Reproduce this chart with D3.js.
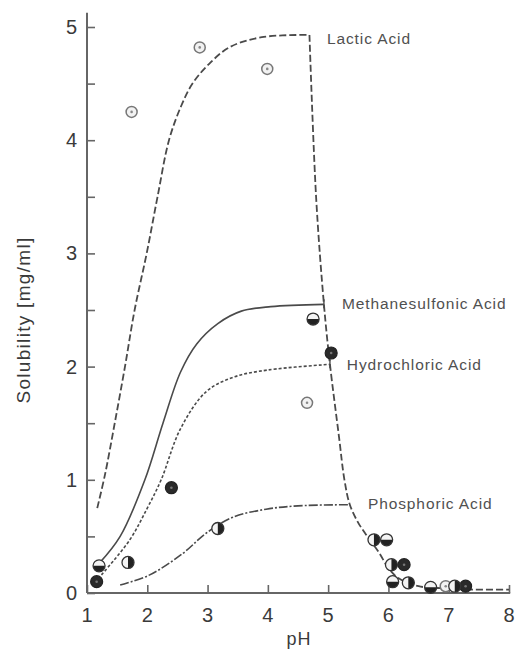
<!DOCTYPE html>
<html><head><meta charset="utf-8">
<script src="https://cdn.jsdelivr.net/npm/d3@7"></script>
<style>body{margin:0;background:#fff}svg{display:block}</style>
</head><body><svg id="c" width="528" height="651"></svg>
<script>
// ---- data ----
const xTicks = [1,2,3,4,5,6,7,8];
const yTicks = [0,1,2,3,4,5];
const yMinorTicks = [0.5,1.5,2.5,3.5,4.5];

const lacticCurve = [[1.17,0.75],[1.3,1.05],[1.46,1.5],[1.63,2.0],[1.79,2.5],[1.99,3.0],[2.17,3.5],[2.36,4.0],[2.56,4.3],[2.75,4.5],[3.0,4.66],[3.36,4.82],[3.9,4.91],[4.69,4.93]];
const descentCurve = [[4.69,4.93],[4.8,3.5],[4.93,2.55],[5.03,2.02],[5.18,1.38],[5.27,1.0],[5.36,0.78],[5.5,0.62],[5.65,0.5],[5.84,0.36],[6.0,0.22],[6.17,0.13],[6.5,0.06],[7.0,0.04],[7.4,0.03],[8.0,0.03]];
const msaCurve = [[1.2,0.26],[1.55,0.5],[1.96,1.0],[2.26,1.5],[2.55,1.95],[2.82,2.2],[3.17,2.38],[3.56,2.49],[4.05,2.53],[4.93,2.55]];
const hclCurve = [[1.24,0.16],[1.71,0.47],[2.0,0.75],[2.23,1.0],[2.55,1.45],[2.98,1.78],[3.45,1.91],[4.0,1.97],[5.03,2.02]];
const phosCurve = [[1.55,0.07],[2.04,0.16],[2.59,0.35],[2.98,0.53],[3.42,0.67],[3.97,0.74],[4.5,0.77],[5.36,0.78]];

const lacticPH = [1.74, 2.87, 3.99, 4.65, 6.95];
const lacticS  = [4.25, 4.82, 4.63, 1.68, 0.06];
const msaPH = [1.2, 4.75, 5.97, 6.07, 6.7];
const msaS  = [0.24, 2.42, 0.47, 0.1, 0.05];
const hclPH = [1.16, 2.4, 5.05, 6.26, 7.28];
const hclS  = [0.1, 0.93, 2.12, 0.25, 0.06];
const phosPH = [1.68, 3.17, 5.76, 6.05, 6.33, 7.1];
const phosS  = [0.27, 0.57, 0.47, 0.25, 0.09, 0.06];

const labels = [
  {text:"Lactic Acid", x:4.98, y:4.85},
  {text:"Methanesulfonic Acid", x:5.23, y:2.51},
  {text:"Hydrochloric Acid", x:5.31, y:1.97},
  {text:"Phosphoric Acid", x:5.66, y:0.74}
];

// ---- drawing ----
const svg = d3.select("#c");
const x = d3.scaleLinear().domain([1,8]).range([87,509]);
const y = d3.scaleLinear().domain([0,5]).range([593,27]);
const axisColor = "#666";
const font = "'Liberation Sans', Arial, sans-serif";

svg.append("line").attr("x1",x(1)).attr("x2",x(1)).attr("y1",y(0)).attr("y2",y(5.125))
  .attr("stroke",axisColor).attr("stroke-width",2);
svg.append("line").attr("x1",x(1)).attr("x2",x(8.02)).attr("y1",y(0)).attr("y2",y(0))
  .attr("stroke",axisColor).attr("stroke-width",2);

const yAxis = d3.axisRight(y).tickValues(yTicks.concat(yMinorTicks)).tickSize(8).tickFormat("");
const gy = svg.append("g").attr("transform",`translate(${x(1)},0)`).call(yAxis);
gy.select(".domain").remove();
gy.selectAll("line").attr("stroke",axisColor).attr("stroke-width",1.6);
svg.selectAll(".ylab").data(yTicks).enter().append("text")
  .attr("x",77).attr("y",d=>y(d)+7).attr("text-anchor","end")
  .attr("font-family",font).attr("font-size",20).attr("fill","#3a3a3a").text(d=>d);

const xAxis = d3.axisTop(x).tickValues(xTicks).tickSize(8).tickFormat("");
const gx = svg.append("g").attr("transform",`translate(0,${y(0)})`).call(xAxis);
gx.select(".domain").remove();
gx.selectAll("line").attr("stroke",axisColor).attr("stroke-width",1.6);
svg.selectAll(".xlab").data(xTicks).enter().append("text")
  .attr("x",d=>x(d)).attr("y",622).attr("text-anchor","middle")
  .attr("font-family",font).attr("font-size",20).attr("fill","#3a3a3a").text(d=>d);

svg.append("text").attr("x",299).attr("y",645).attr("text-anchor","middle")
  .attr("font-family",font).attr("font-size",18).attr("letter-spacing",1).attr("fill","#3a3a3a").text("pH");
svg.append("text").attr("transform","translate(30,320) rotate(-90)").attr("text-anchor","middle")
  .attr("font-family",font).attr("font-size",19).attr("letter-spacing",1.3).attr("fill","#3a3a3a").text("Solubility [mg/ml]");

const line = d3.line().x(d=>x(d[0])).y(d=>y(d[1])).curve(d3.curveCatmullRom.alpha(0.5));
function drawCurve(data, dash, w){
  svg.append("path").attr("d",line(data)).attr("fill","none")
    .attr("stroke","#4a4a4a").attr("stroke-width",w).attr("stroke-dasharray",dash);
}
drawCurve(lacticCurve,"7,3",1.8);
drawCurve(descentCurve,"7,3",1.8);
drawCurve(msaCurve,null,1.6);
drawCurve(hclCurve,"3,2",1.6);
drawCurve(phosCurve,"9,2,2,2",1.6);
[[4.93,2.55],[5.03,2.02]].forEach(p=>{
  svg.append("line").attr("x1",x(p[0])).attr("x2",x(p[0])).attr("y1",y(p[1])-5).attr("y2",y(p[1])+4)
    .attr("stroke","#4a4a4a").attr("stroke-width",1.4);
});

const R = 6;
const arc = d3.arc().innerRadius(0).outerRadius(R);
function base(px,py){ return svg.append("g").attr("transform",`translate(${x(px)},${y(py)})`); }
lacticPH.forEach((p,i)=>{
  const g = base(p,lacticS[i]);
  g.append("circle").attr("r",5.5).attr("fill","#f2f2f2").attr("stroke","#777").attr("stroke-width",1.5);
  g.append("circle").attr("r",1.3).attr("fill","#888");
});
msaPH.forEach((p,i)=>{
  const g = base(p,msaS[i]);
  g.append("circle").attr("r",R).attr("fill","#f4f4f4");
  g.append("path").attr("d",arc({startAngle:Math.PI/2,endAngle:Math.PI*1.5})).attr("fill","#222");
  g.append("circle").attr("r",R).attr("fill","none").attr("stroke","#333").attr("stroke-width",1.3);
});
hclPH.forEach((p,i)=>{
  const g = base(p,hclS[i]);
  g.append("circle").attr("r",R).attr("fill","#2a2a2a").attr("stroke","#222").attr("stroke-width",1.2);
  g.append("circle").attr("r",1.3).attr("fill","#777");
});
phosPH.forEach((p,i)=>{
  const g = base(p,phosS[i]);
  g.append("circle").attr("r",R).attr("fill","#f4f4f4");
  g.append("path").attr("d",arc({startAngle:0,endAngle:Math.PI})).attr("fill","#222");
  g.append("circle").attr("r",R).attr("fill","none").attr("stroke","#333").attr("stroke-width",1.3);
});

svg.selectAll(".lab").data(labels).enter().append("text")
  .attr("x",d=>x(d.x)).attr("y",d=>y(d.y)).attr("font-family",font).attr("font-size",15.5)
  .attr("letter-spacing",0.9).attr("fill","#505050").text(d=>d.text);
</script></body></html>
